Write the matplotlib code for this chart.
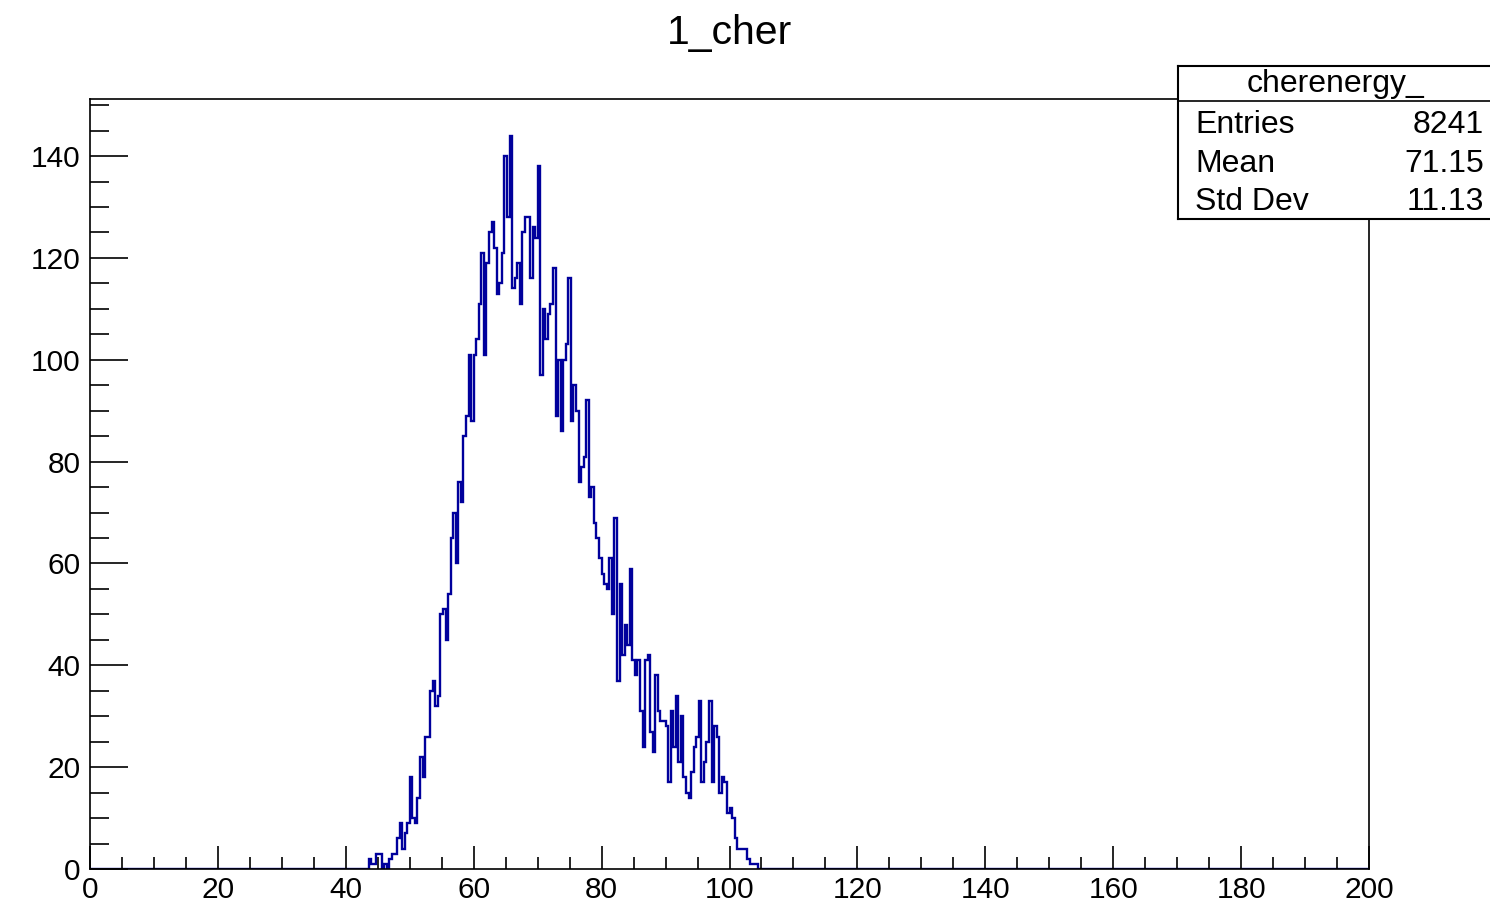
import numpy as np
import matplotlib
matplotlib.use('Agg')
import matplotlib.pyplot as plt
from matplotlib.ticker import MultipleLocator

plt.rcParams['font.family'] = ['Liberation Sans', 'DejaVu Sans']

# histogram definition (500 bins over 0..200) and the filled bin contents
n_bins = 500
x_lo, x_hi = 0, 200
first_edge = 43.6   # low edge of the first non-empty bin
counts = [
    2, 1, 1, 3, 3, 0, 1, 0, 2, 3,
    3, 6, 9, 4, 7, 9, 18, 10, 9, 14,
    22, 18, 26, 26, 35, 37, 32, 34, 50, 51,
    45, 54, 65, 70, 60, 76, 72, 85, 89, 101,
    88, 101, 104, 111, 121, 101, 119, 125, 127, 122,
    113, 115, 121, 140, 128, 144, 114, 116, 119, 111,
    125, 128, 128, 116, 126, 124, 138, 97, 110, 104,
    109, 111, 118, 89, 100, 86, 100, 103, 116, 88,
    95, 90, 76, 79, 81, 92, 73, 75, 68, 65,
    61, 58, 56, 55, 61, 50, 69, 37, 56, 42,
    48, 44, 59, 41, 38, 41, 31, 24, 41, 42,
    27, 23, 38, 31, 29, 29, 28, 17, 31, 24,
    34, 21, 30, 18, 15, 14, 19, 24, 26, 33,
    17, 21, 25, 33, 17, 28, 26, 15, 18, 17,
    11, 12, 10, 6, 4, 4, 4, 4, 2, 1,
    1, 1,
]

title = "1_cher"
stat_name = "cherenergy_"
stat_labels = ["Entries", "Mean", "Std Dev"]
stat_values = ["8241", "71.15", "11.13"]

edges = np.linspace(x_lo, x_hi, n_bins + 1)
full = np.zeros(n_bins)
start = int(round((first_edge - x_lo) / (edges[1] - edges[0])))
full[start:start + len(counts)] = counts

W, H = 1490, 911
fig = plt.figure(figsize=(W / 100, H / 100), dpi=100)
ax = fig.add_axes([90 / W, 1 - 869 / H, (1369 - 90) / W, (869 - 99) / H])

ax.stairs(full, edges, color='#00009c', linewidth=1.7)
ax.set_xlim(x_lo, x_hi)
ax.set_ylim(0, max(counts) * 1.05)

ax.xaxis.set_major_locator(MultipleLocator(20))
ax.xaxis.set_minor_locator(MultipleLocator(5))
ax.yaxis.set_major_locator(MultipleLocator(20))
ax.yaxis.set_minor_locator(MultipleLocator(5))
ax.tick_params(which='both', direction='in', top=False, right=False,
               labelsize=21.5, width=1.2, color='black')
ax.tick_params(axis='x', which='major', length=16.5, pad=5)
ax.tick_params(axis='x', which='minor', length=8.3)
ax.tick_params(axis='y', which='major', length=27.5, pad=7)
ax.tick_params(axis='y', which='minor', length=13.7)
for s in ax.spines.values():
    s.set_linewidth(1.2)

fig.text((90 + 1369) / 2 / W, 1 - 33 / H, title, ha='center', va='center',
         fontsize=29.5)

# stats box, top right (runs off the right edge like the original)
bx0, bx1, by0, by1 = 1178, 1550, 66, 219
sax = fig.add_axes([bx0 / W, 1 - by1 / H, (bx1 - bx0) / W, (by1 - by0) / H])
sax.set_xlim(bx0, bx1)
sax.set_ylim(by1, by0)
sax.set_xticks([])
sax.set_yticks([])
sax.set_facecolor('white')
for s in sax.spines.values():
    s.set_linewidth(1.5)
sax.axhline(101, color='black', linewidth=1.2)
sax.text(1335, 84, stat_name, ha='center', va='center', fontsize=23)
for i, (lab, val) in enumerate(zip(stat_labels, stat_values)):
    yy = 125 + 38.5 * i
    sax.text(1195, yy, lab, ha='left', va='center', fontsize=23)
    sax.text(1484, yy, val, ha='right', va='center', fontsize=23)

fig.savefig('out.png', dpi=100)
